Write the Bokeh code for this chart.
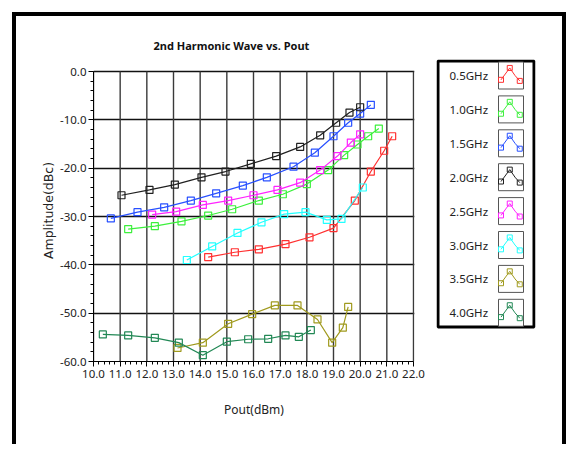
from bokeh.plotting import figure
from bokeh.models import SingleIntervalTicker, PrintfTickFormatter, Range1d
from bokeh.layouts import row
from bokeh.embed import file_html
from bokeh.resources import INLINE
from bokeh.core.properties import value

# ---------------- data ----------------
series_names = ["0.5GHz", "1.0GHz", "1.5GHz", "2.0GHz", "2.5GHz", "3.0GHz", "3.5GHz", "4.0GHz"]
series_colors = ["#FF3030", "#3CF03C", "#2850FF", "#202020", "#FF22FF", "#22FFFF", "#A09A1E", "#228855"]

x_05 = [14.3, 15.3, 16.2, 17.2, 18.1, 19.0, 19.8, 20.4, 20.9, 21.2]
y_05 = [-38.4, -37.4, -36.8, -35.7, -34.3, -32.4, -26.7, -20.7, -16.4, -13.4]

x_10 = [11.3, 12.3, 13.3, 14.3, 15.2, 16.2, 17.1, 18.0, 18.8, 19.4, 19.9, 20.3, 20.7]
y_10 = [-32.6, -32.0, -31.0, -29.8, -28.5, -26.7, -25.4, -23.3, -20.4, -17.3, -15.1, -13.4, -11.8]

x_15 = [10.65, 11.65, 12.65, 13.65, 14.6, 15.6, 16.5, 17.5, 18.3, 19.0, 19.55, 20.0, 20.4]
y_15 = [-30.4, -29.1, -28.1, -26.7, -25.2, -23.6, -21.9, -19.7, -16.8, -13.4, -10.6, -8.7, -6.9]

x_20 = [11.05, 12.1, 13.05, 14.05, 14.95, 15.9, 16.85, 17.75, 18.5, 19.1, 19.6, 20.0]
y_20 = [-25.6, -24.5, -23.4, -21.9, -20.7, -19.1, -17.5, -15.6, -13.2, -10.6, -8.5, -7.4]

x_25 = [12.2, 13.1, 14.1, 15.05, 16.0, 16.9, 17.75, 18.5, 19.15, 19.65, 20.0]
y_25 = [-29.6, -29.0, -27.6, -26.7, -25.6, -24.5, -23.0, -20.4, -17.5, -14.7, -13.0]

x_30 = [13.5, 14.45, 15.4, 16.3, 17.15, 17.95, 18.75, 19.3, 20.1]
y_30 = [-39.0, -36.2, -33.4, -31.2, -29.5, -29.1, -30.7, -30.5, -24.0]

x_35 = [13.15, 14.1, 15.05, 15.95, 16.8, 17.65, 18.4, 18.95, 19.35, 19.55]
y_35 = [-57.2, -56.1, -52.2, -50.2, -48.4, -48.4, -51.3, -56.1, -53.0, -48.7]

x_40 = [10.35, 11.3, 12.3, 13.2, 14.1, 15.0, 15.8, 16.55, 17.2, 17.7, 18.15]
y_40 = [-54.4, -54.6, -55.1, -56.1, -58.7, -55.9, -55.4, -55.3, -54.6, -54.9, -53.5]

series_x = [x_05, x_10, x_15, x_20, x_25, x_30, x_35, x_40]
series_y = [y_05, y_10, y_15, y_20, y_25, y_30, y_35, y_40]

x_min, x_max, x_step = 10, 22, 1
y_min, y_max, y_step = -60, 0, 10

title_text = "2nd Harmonic Wave vs. Pout"
x_title = "Pout(dBm)"
y_title = "Amplitude(dBc)"

FONT = "Noto Sans"

# ---------------- main chart ----------------
# frame extends 12px above the 0 line so the legend panel can start higher
PX_PER_UNIT = 290 / (y_max - y_min)
y_top_pad = 12 / PX_PER_UNIT
x_right_pad = 1 / 26.5

p = figure(width=414, height=428, output_backend="svg", toolbar_location=None,
           x_range=Range1d(x_min, x_max + x_right_pad), y_range=Range1d(y_min, y_max + y_top_pad),
           min_border_left=77, min_border_right=16, min_border_top=43, min_border_bottom=83,
           background_fill_color="white", border_fill_color="white")

p.title.text = title_text
p.title.align = "left"
p.title.offset = 60
p.title.standoff = 13
p.title.text_font = FONT
p.title.text_font_size = "11px"
p.title.text_font_style = "bold"
p.title.text_color = "#111111"

p.outline_line_color = None

p.xaxis.ticker = SingleIntervalTicker(interval=x_step, num_minor_ticks=5)
p.yaxis.ticker = SingleIntervalTicker(interval=y_step, num_minor_ticks=5)
p.xaxis.bounds = (x_min, x_max)
p.yaxis.bounds = (y_min, y_max)
p.xaxis.formatter = PrintfTickFormatter(format="%.1f")
p.yaxis.formatter = PrintfTickFormatter(format="%.1f")
for ax in (p.xaxis[0], p.yaxis[0]):
    ax.axis_line_color = "black"
    ax.major_tick_line_color = "black"
    ax.minor_tick_line_color = "black"
    ax.major_tick_in = 0
    ax.major_tick_out = 5
    ax.minor_tick_in = 0
    ax.minor_tick_out = 3
    ax.major_label_text_font = FONT
    ax.major_label_text_font_size = "11.5px"
    ax.major_label_text_color = "#222222"
    ax.axis_label_text_font_style = "normal"
    ax.axis_label_text_color = "#222222"
p.xaxis.major_label_standoff = 3
p.yaxis.major_label_standoff = 2
p.xaxis.axis_label = x_title
p.xaxis.axis_label_text_font = FONT
p.xaxis.axis_label_text_font_size = "12px"
p.xaxis.axis_label_standoff = 20
p.yaxis.axis_label = y_title
p.yaxis.axis_label_text_font = "DejaVu Sans"
p.yaxis.axis_label_text_font_size = "12.5px"
p.yaxis.axis_label_standoff = 1

# horizontal grid from the library; vertical grid limited to the y span
p.ygrid.grid_line_color = "#111111"
p.ygrid.grid_line_width = 1.5
p.xgrid.visible = False
grid_x = list(range(x_min, x_max + 1, x_step))
p.segment(x0=grid_x, y0=[y_min] * len(grid_x), x1=grid_x, y1=[y_max] * len(grid_x),
          line_color="#3a3a3a", line_width=1.4)

for xs, ys, c in zip(series_x, series_y, series_colors):
    p.line(xs, ys, line_color=c, line_width=1.2)
    p.scatter(xs, ys, marker="square", size=7, fill_color=None, line_color=c, line_width=1.2)

# ---------------- legend panel ----------------
FW, FH = 99, 302
BOX_B = 269
leg = figure(width=132, height=428, output_backend="svg", toolbar_location=None,
             x_range=Range1d(0, FW), y_range=Range1d(FH, 0),
             min_border_left=6, min_border_right=27, min_border_top=43, min_border_bottom=83,
             background_fill_color="white", border_fill_color="white")
leg.axis.visible = False
leg.grid.visible = False
leg.outline_line_color = None
leg.quad(left=[1.5], right=[FW - 1.5], top=[1.5], bottom=[BOX_B - 1.5],
         fill_color=None, line_color="black", line_width=3)

ENTRY0, STEP = 16, 33.9
BOX_L, BOX_R, BOX_H = 62, 87, 27
centers = [ENTRY0 + STEP * i for i in range(len(series_names))]
leg.text(x=[13] * len(series_names), y=centers, text=series_names,
         text_font=value(FONT), text_font_size="11.5px", text_color="#222222",
         text_align="left", text_baseline="middle")
leg.quad(left=[BOX_L] * len(centers), right=[BOX_R] * len(centers),
         top=[c - BOX_H / 2 for c in centers], bottom=[c + BOX_H / 2 for c in centers],
         fill_color="white", line_color="#555555", line_width=1)
icon_fx = [0.1, 0.45, 0.66, 0.85]
icon_fy = [0.66, 0.22, 0.5, 0.7]
for c, col in zip(centers, series_colors):
    ix = [BOX_L + f * (BOX_R - BOX_L) for f in icon_fx]
    iy = [c - BOX_H / 2 + f * BOX_H for f in icon_fy]
    leg.line(ix, iy, line_color=col, line_width=1)
    leg.scatter([ix[0], ix[1], ix[3]], [iy[0], iy[1], iy[3]], marker="square", size=5,
                fill_color=None, line_color=col, line_width=1)

layout = row(p, leg, margin=(12, 0, 0, 12), styles={
    "border-left": "4px solid black",
    "border-top": "4px solid black",
    "border-right": "4px solid black",
})

open("out.html", "w").write(file_html(layout, INLINE))
